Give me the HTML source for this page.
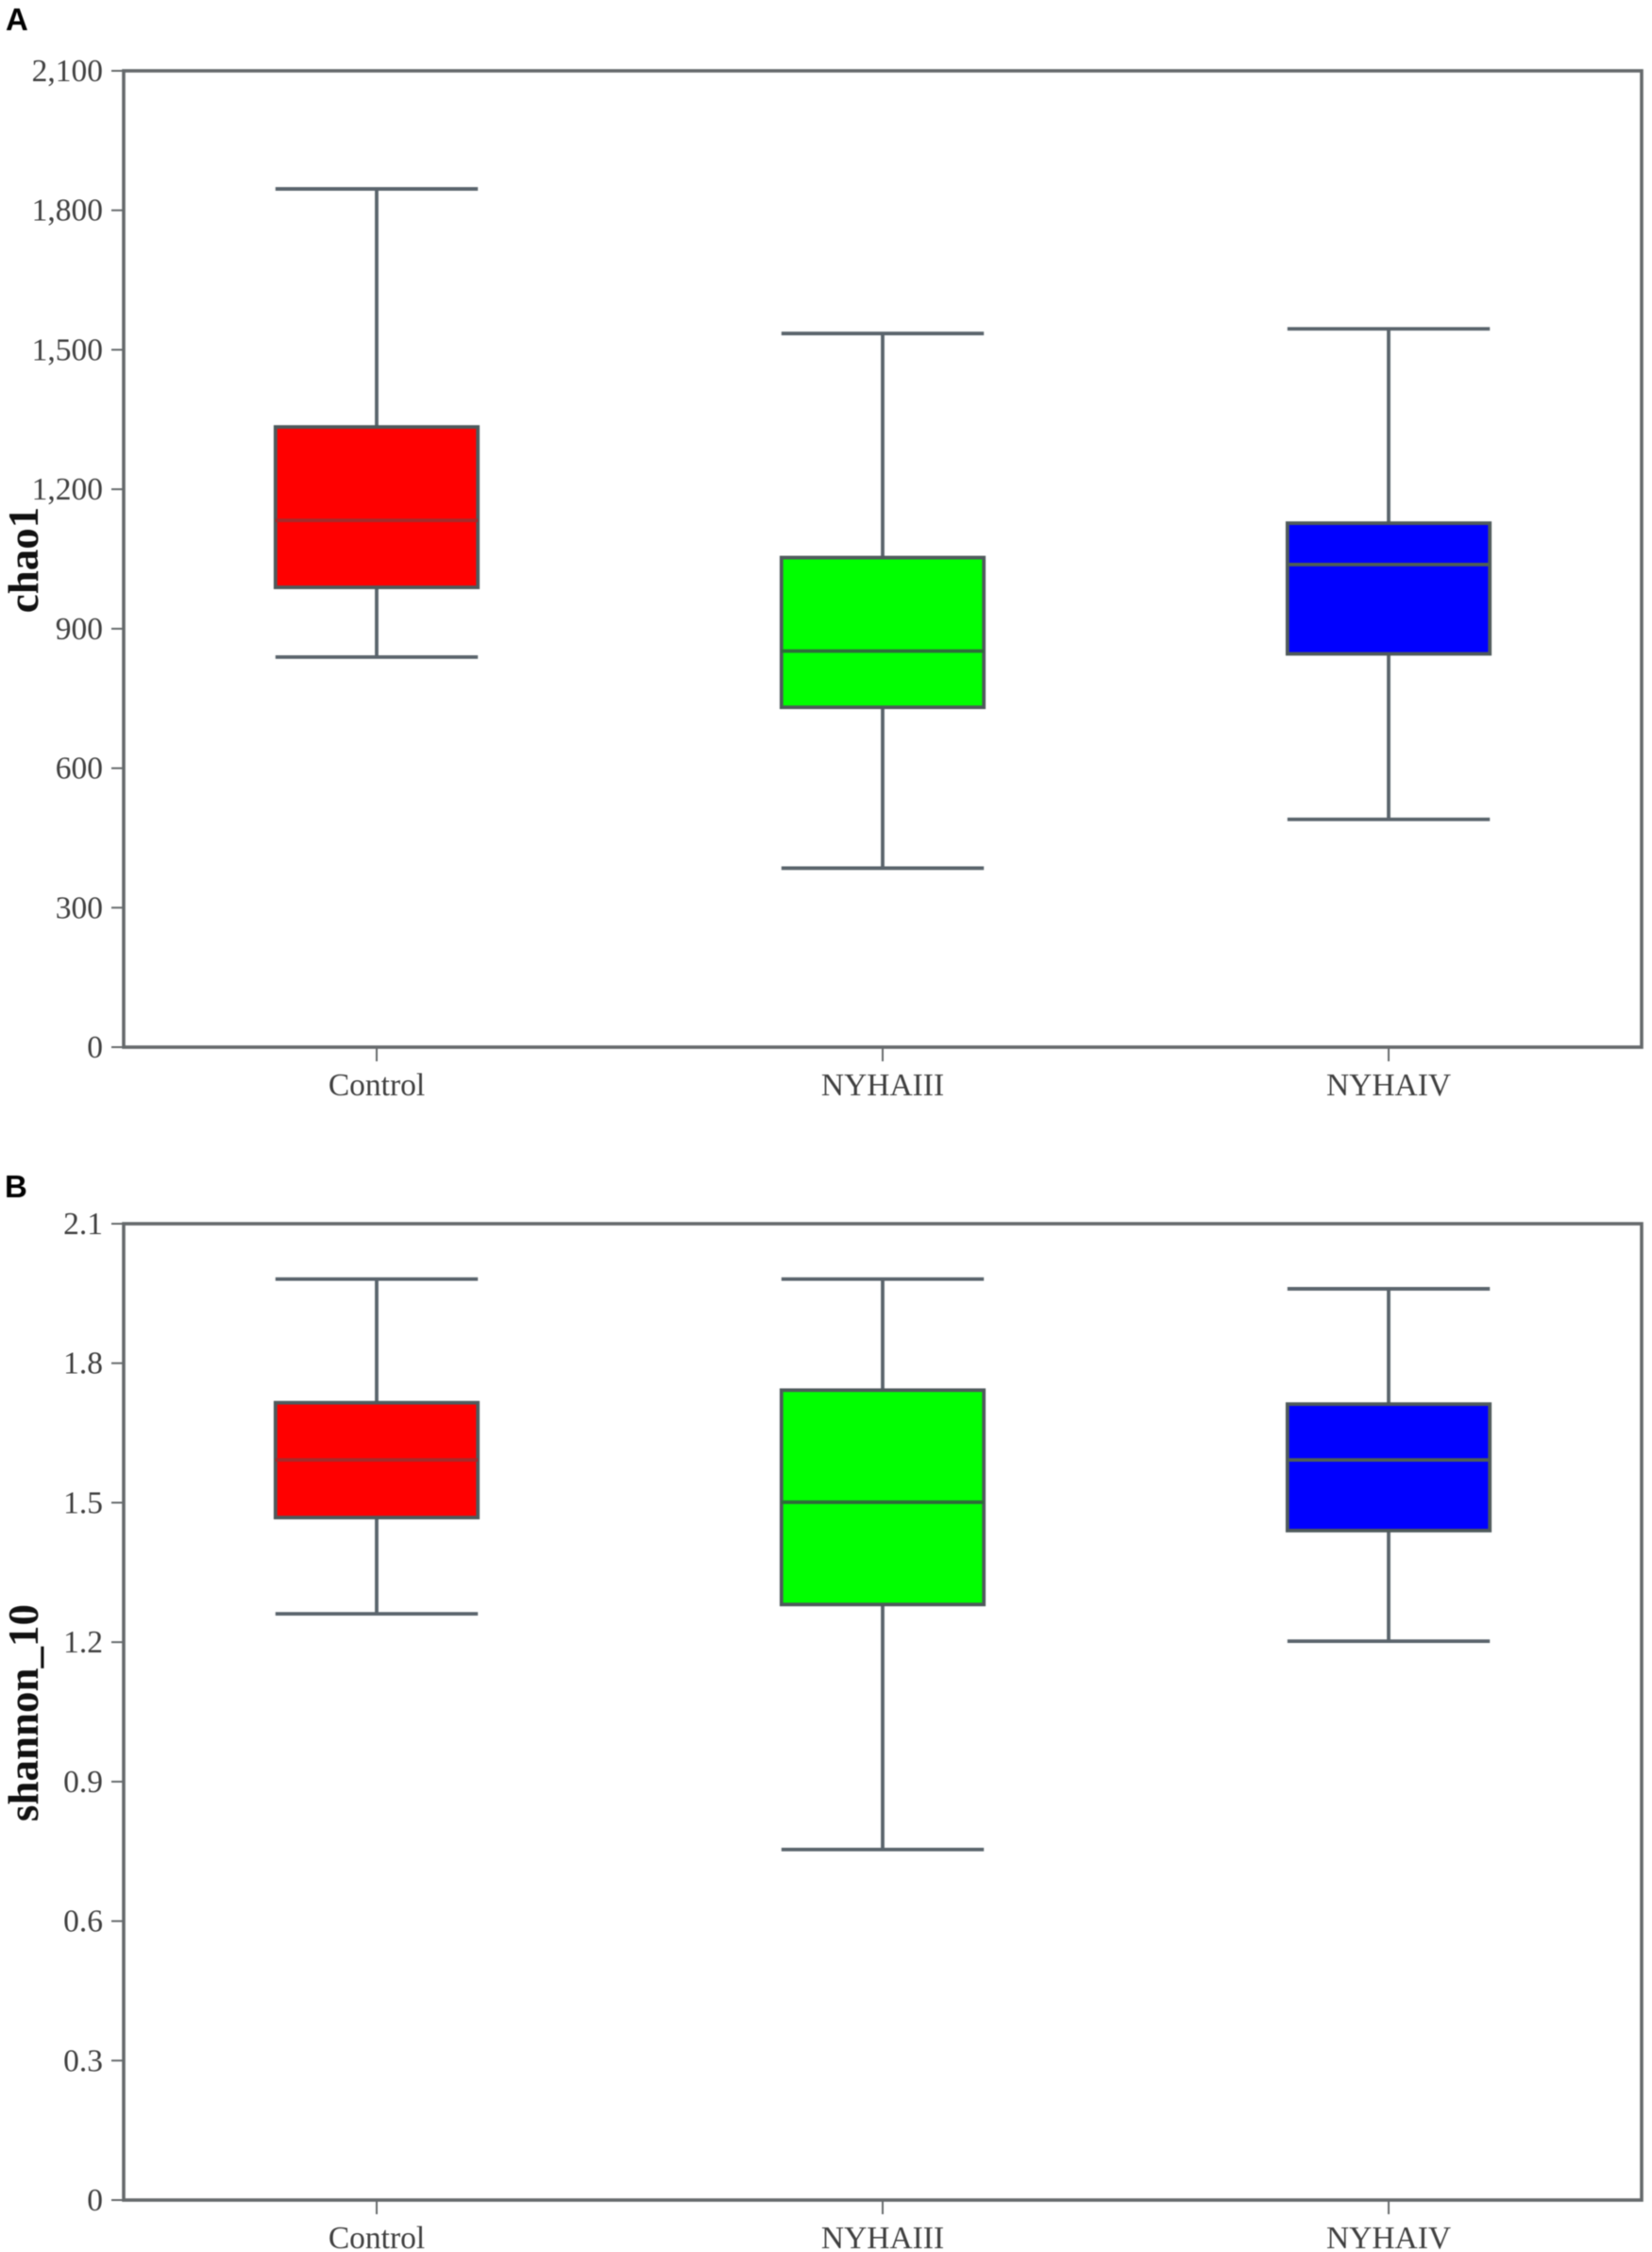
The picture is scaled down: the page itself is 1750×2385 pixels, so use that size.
<!DOCTYPE html>
<html lang="en">
<head>
<meta charset="utf-8">
<title>Alpha diversity box plots</title>
<style>
  html, body { margin: 0; padding: 0; background: #fff; width: 1750px; height: 2385px; overflow: hidden; }
  svg { display: block; filter: blur(0.6px); }
  .tick-text { font-family: "Liberation Serif", serif; font-size: 33.5px; fill: #404040; }
  .axis-title { font-family: "Liberation Serif", serif; font-size: 45px; font-weight: bold; fill: #111; }
  .panel-letter { font-family: "Liberation Sans", sans-serif; font-size: 33px; font-weight: bold; fill: #000; }
</style>
</head>
<body>
<svg id="figure" xmlns="http://www.w3.org/2000/svg" width="1750" height="2385" viewBox="0 0 1750 2385">
  <rect x="0" y="0" width="1750" height="2385" fill="#fff"/>
  <text class="panel-letter" x="6" y="32">A</text>
  <text class="panel-letter" x="5" y="1268">B</text>
</svg>
<script>
// Shared categories and colours
const categories = ['Control', 'NYHAIII', 'NYHAIV'];
const boxFills = ['#ff0000', '#00ff00', '#0000ff'];
const medianColors = ['#a52a2a', '#2f6b3a', '#4f5f55'];

// Panel A: chao1
const chaoTickValues = [0, 300, 600, 900, 1200, 1500, 1800, 2100];
const chaoTickLabels = ['0', '300', '600', '900', '1,200', '1,500', '1,800', '2,100'];
const chaoWhiskerHigh = [1846, 1535, 1545];
const chaoQ3 = [1334, 1053, 1127];
const chaoMedian = [1133, 852, 1038];
const chaoQ1 = [989, 731, 846];
const chaoWhiskerLow = [839, 385, 490];

// Panel B: shannon_10
const shannonTickValues = [0, 0.3, 0.6, 0.9, 1.2, 1.5, 1.8, 2.1];
const shannonTickLabels = ['0', '0.3', '0.6', '0.9', '1.2', '1.5', '1.8', '2.1'];
const shannonWhiskerHigh = [1.981, 1.981, 1.96];
const shannonQ3 = [1.715, 1.742, 1.712];
const shannonMedian = [1.592, 1.501, 1.592];
const shannonQ1 = [1.468, 1.281, 1.44];
const shannonWhiskerLow = [1.261, 0.754, 1.202];

const NS = 'http://www.w3.org/2000/svg';
const svg = document.getElementById('figure');
const LINE = '#5a646c';
const FRAME = '#666a6c';
const STROKE = 3.8;

function make(tag, attrs, parent) {
  const node = document.createElementNS(NS, tag);
  for (const key in attrs) node.setAttribute(key, attrs[key]);
  parent.appendChild(node);
  return node;
}

function drawPanel(p) {
  const left = 131, right = 1739;
  const top = p.top, bottom = p.top + 1034;
  const maxV = p.tickValues[p.tickValues.length - 1];
  const yScale = function (v) { return bottom - (v / maxV) * (bottom - top); };
  const band = (right - left) / categories.length;
  const xScale = function (i) { return left + band * (i + 0.5); };
  const boxW = band * 0.4;

  const g = make('g', {}, svg);
  
  

  p.tickValues.forEach(function (v, i) {
    const y = yScale(v);
    const tick = make('line', { x1: left - 13, x2: left, y1: y, y2: y, stroke: FRAME, 'stroke-width': 2 }, g);
    
    
    const label = make('text', { x: 109, y: y + 11, 'text-anchor': 'end', class: 'tick-text' }, g);
    
    
    label.textContent = p.tickLabels[i];
  });

  categories.forEach(function (c, i) {
    const x = xScale(i);
    const tick = make('line', { x1: x, x2: x, y1: bottom, y2: bottom + 15, stroke: FRAME, 'stroke-width': 2 }, g);
    
    
    const label = make('text', { x: x, y: bottom + 51, 'text-anchor': 'middle', class: 'tick-text' }, g);
    
    
    label.textContent = c;
  });

  const frame = make('rect', { x: left, y: top, width: right - left, height: bottom - top, fill: 'none', stroke: FRAME, 'stroke-width': 3.6 }, g);
  
  

  const title = make('text', { x: 0, y: 0, 'text-anchor': 'middle', class: 'axis-title', transform: 'translate(' + p.titleX + ' ' + p.titleY + ') rotate(-90)' }, g);
  
  
  title.textContent = p.title;

  categories.forEach(function (c, i) {
    const x = xScale(i);
    const slug = c.toLowerCase();

    const whisker = make('line', { x1: x, x2: x, y1: yScale(p.high[i]), y2: yScale(p.low[i]), stroke: LINE, 'stroke-width': STROKE }, g);
    
    

    const capHigh = make('line', { x1: x - boxW / 2, x2: x + boxW / 2, y1: yScale(p.high[i]), y2: yScale(p.high[i]), stroke: LINE, 'stroke-width': STROKE }, g);
    
    

    const capLow = make('line', { x1: x - boxW / 2, x2: x + boxW / 2, y1: yScale(p.low[i]), y2: yScale(p.low[i]), stroke: LINE, 'stroke-width': STROKE }, g);
    
    

    const box = make('rect', { x: x - boxW / 2, y: yScale(p.q3[i]), width: boxW, height: yScale(p.q1[i]) - yScale(p.q3[i]), fill: boxFills[i], stroke: '#4f5a5c', 'stroke-width': STROKE }, g);
    
    

    const median = make('line', { x1: x - boxW / 2, x2: x + boxW / 2, y1: yScale(p.median[i]), y2: yScale(p.median[i]), stroke: medianColors[i], 'stroke-width': STROKE }, g);
    
    
  });
}

drawPanel({
  key: 'chao1', title: 'chao1', top: 75, titleX: 40, titleY: 593,
  tickValues: chaoTickValues, tickLabels: chaoTickLabels,
  high: chaoWhiskerHigh, q3: chaoQ3, median: chaoMedian, q1: chaoQ1, low: chaoWhiskerLow
});
drawPanel({
  key: 'shannon', title: 'shannon_10', top: 1296, titleX: 40, titleY: 1814,
  tickValues: shannonTickValues, tickLabels: shannonTickLabels,
  high: shannonWhiskerHigh, q3: shannonQ3, median: shannonMedian, q1: shannonQ1, low: shannonWhiskerLow
});
</script>
</body>
</html>
